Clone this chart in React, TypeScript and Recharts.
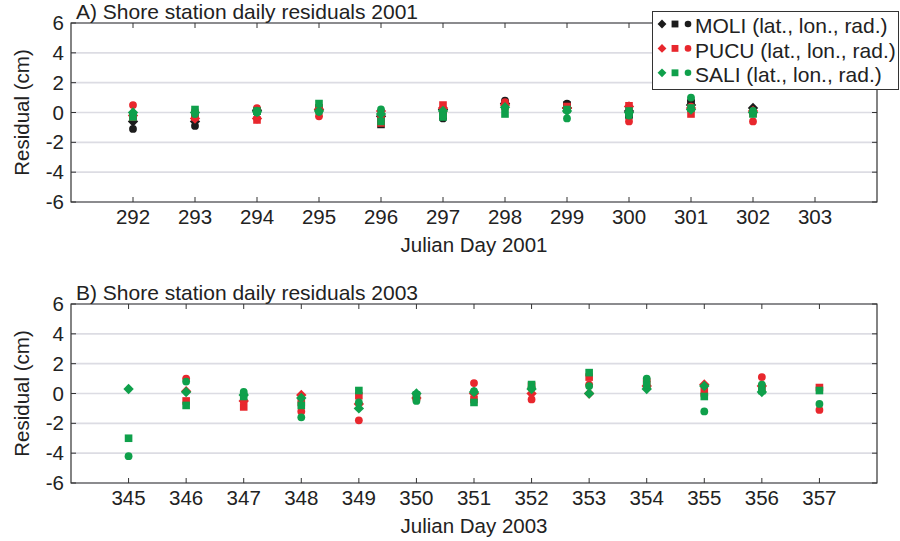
import React from 'react';
import { ScatterChart, Scatter, XAxis, YAxis, CartesianGrid, ReferenceArea, Legend } from 'recharts';

// ---- Panel A: 2001 ----
const days2001 = [292, 293, 294, 295, 296, 297, 298, 299, 300, 301, 302];
const dayTicks2001 = [292, 293, 294, 295, 296, 297, 298, 299, 300, 301, 302, 303];
const moliLat2001 = [-0.6, -0.6, 0.15, 0.2, -0.25, 0.2, 0.6, 0.3, 0.1, 0.5, 0.3];
const moliLon2001 = [-0.4, -0.2, 0.1, 0.3, -0.8, 0.0, 0.5, 0.5, -0.1, 0.6, 0.1];
const moliRad2001 = [-1.1, -0.9, 0.2, 0.1, -0.5, -0.4, 0.8, 0.6, -0.3, 0.8, 0.2];
const pucuLat2001 = [-0.2, -0.4, -0.4, 0.2, 0.1, 0.3, 0.5, 0.3, 0.4, 0.3, 0.1];
const pucuLon2001 = [-0.3, -0.3, -0.5, 0.3, -0.7, 0.5, 0.4, 0.4, 0.45, -0.1, -0.05];
const pucuRad2001 = [0.5, 0.1, 0.3, -0.25, -0.3, 0.1, 0.7, 0.2, -0.6, 0.4, -0.6];
const saliLat2001 = [0.0, 0.0, 0.05, 0.1, -0.1, 0.1, 0.35, 0.1, 0.0, 0.2, 0.0];
const saliLon2001 = [-0.3, 0.2, 0.1, 0.6, -0.6, -0.3, -0.1, 0.2, 0.1, 0.3, -0.1];
const saliRad2001 = [-0.1, -0.1, 0.0, 0.05, 0.2, -0.2, 0.3, -0.4, -0.2, 1.0, 0.1];

// ---- Panel B: 2003 ----
const days2003 = [345, 346, 347, 348, 349, 350, 351, 352, 353, 354, 355, 356, 357];
const dayTicks2003 = [345, 346, 347, 348, 349, 350, 351, 352, 353, 354, 355, 356, 357];
const pucuLat2003 = [null, 0.15, -0.5, -0.1, -0.7, -0.3, 0.0, 0.0, 0.0, 0.5, 0.6, 0.5, null];
const pucuLon2003 = [null, -0.5, -0.9, -0.6, -0.15, -0.2, -0.4, 0.5, 1.1, 0.6, 0.2, 0.4, 0.4];
const pucuRad2003 = [null, 1.0, -0.5, -1.2, -1.8, -0.4, 0.7, -0.4, 0.6, 0.9, -0.1, 1.1, -1.1];
const saliLat2003 = [0.3, 0.1, -0.1, -0.3, -1.0, 0.0, 0.1, 0.3, 0.0, 0.3, 0.5, 0.1, null];
const saliLon2003 = [-3.0, -0.8, -0.2, -0.8, 0.2, -0.1, -0.6, 0.6, 1.4, 0.6, -0.2, 0.2, 0.2];
const saliRad2003 = [-4.2, 0.8, 0.1, -1.6, -0.6, -0.5, 0.15, 0.4, 0.5, 1.0, -1.2, 0.6, -0.7];

const residualTicks = [-6, -4, -2, 0, 2, 4, 6];
const stationLabels = ['MOLI (lat., lon., rad.)', 'PUCU (lat., lon., rad.)', 'SALI (lat., lon., rad.)'];

const BLACK = '#1c1c1c';
const RED = '#e8272d';
const GREEN = '#0fa04b';
const TEXT = '#222';
const FONT = '"Liberation Sans", Arial, Helvetica, sans-serif';

type Pt = { day: number; res: number };
const pairs = (days: number[], values: (number | null)[]): Pt[] =>
  days.flatMap((d, i) => (values[i] == null ? [] : [{ day: d, res: values[i] as number }]));

type Kind = 'diamond' | 'square' | 'circle';

function Marker({ kind, cx, cy, color, s = 1 }: { kind: Kind; cx: number; cy: number; color: string; s?: number }) {
  if (kind === 'diamond') {
    const h = 5.2 * s;
    return <polygon points={`${cx},${cy - h} ${cx + h},${cy} ${cx},${cy + h} ${cx - h},${cy}`} fill={color} />;
  }
  if (kind === 'square') {
    const h = 3.8 * s;
    return <rect x={cx - h} y={cy - h} width={2 * h} height={2 * h} fill={color} />;
  }
  return <circle cx={cx} cy={cy} r={3.9 * s} fill={color} />;
}

const shapeOf = (kind: Kind, color: string) => (props: any) =>
  props.cx == null || props.cy == null ? <g /> : <Marker kind={kind} cx={props.cx} cy={props.cy} color={color} />;

function LegendBox() {
  const colors = [BLACK, RED, GREEN];
  return (
    <div style={{ width: 247, height: 79, boxSizing: 'border-box', border: '1px solid #333', background: '#fff' }}>
      <svg width={245} height={77} style={{ display: 'block' }}>
        {stationLabels.map((label, i) => {
          const cy = 12 + i * 24.4;
          return (
            <g key={label}>
              <Marker kind="diamond" cx={9} cy={cy} color={colors[i]} s={0.85} />
              <Marker kind="square" cx={22} cy={cy} color={colors[i]} s={0.9} />
              <Marker kind="circle" cx={35} cy={cy} color={colors[i]} s={0.85} />
              <text x={42} y={cy + 9.3} fontSize={21} fill={TEXT} fontFamily={FONT}>
                {label}
              </text>
            </g>
          );
        })}
      </svg>
    </div>
  );
}

function Panel({
  title,
  xLabel,
  domain,
  ticks,
  series,
  height,
  marginTop,
  marginBottom,
  showLegend,
}: {
  title: string;
  xLabel: string;
  domain: [number, number];
  ticks: number[];
  series: { data: Pt[]; kind: Kind; color: string; name: string }[];
  height: number;
  marginTop: number;
  marginBottom: number;
  showLegend: boolean;
}) {
  const xAxisH = 40;
  const plotTop = marginTop;
  const plotBottom = height - marginBottom - xAxisH;
  const plotLeft = 71;
  const plotRight = 877;

  const XTick = ({ x, y, payload }: any) => (
    <g>
      <line x1={x} x2={x} y1={y} y2={y - 5} stroke="#333" strokeWidth={1} />
      <line x1={x} x2={x} y1={plotTop} y2={plotTop + 5} stroke="#333" strokeWidth={1} />
      <text x={x} y={y + 22} textAnchor="middle" fontSize={20.5} fill={TEXT} fontFamily={FONT}>
        {payload.value}
      </text>
    </g>
  );

  const YTick = ({ x, y, payload }: any) => (
    <g>
      <line x1={x} x2={x + 5} y1={y} y2={y} stroke="#333" strokeWidth={1} />
      <line x1={plotRight - 5} x2={plotRight} y1={y} y2={y} stroke="#333" strokeWidth={1} />
      <text x={x - 7} y={y + 7} textAnchor="end" fontSize={20.5} fill={TEXT} fontFamily={FONT}>
        {payload.value}
      </text>
    </g>
  );

  const xLabelFn = () => (
    <text x={(plotLeft + plotRight) / 2} y={plotBottom + 50} textAnchor="middle" fontSize={20.5} fill={TEXT} fontFamily={FONT}>
      {xLabel}
    </text>
  );

  const yLabelFn = () => {
    const cy = (plotTop + plotBottom) / 2;
    return (
      <g>
        <text
          x={29}
          y={cy}
          transform={`rotate(-90 29 ${cy})`}
          textAnchor="middle"
          fontSize={20.5}
          fill={TEXT}
          fontFamily={FONT}
        >
          Residual (cm)
        </text>
        <text x={76} y={plotTop - 4.5} fontSize={21} fill={TEXT} fontFamily={FONT}>
          {title}
        </text>
      </g>
    );
  };

  return (
    <ScatterChart width={900} height={height} margin={{ top: marginTop, right: 23, bottom: marginBottom, left: 0 }}>
      <CartesianGrid vertical={false} stroke="#dcdce3" strokeWidth={1.6} />
      <XAxis
        type="number"
        dataKey="day"
        domain={domain}
        ticks={ticks}
        interval={0}
        height={xAxisH}
        axisLine={false}
        tickLine={false}
        tickSize={0}
        tickMargin={0}
        tick={<XTick />}
        label={xLabelFn}
        allowDataOverflow
      />
      <YAxis
        type="number"
        dataKey="res"
        domain={[-6, 6]}
        ticks={residualTicks}
        interval={0}
        width={71}
        axisLine={false}
        tickLine={false}
        tickSize={0}
        tickMargin={0}
        tick={<YTick />}
        label={yLabelFn}
        allowDataOverflow
      />
      <ReferenceArea
        x1={domain[0]}
        x2={domain[1]}
        y1={-6}
        y2={6}
        fill="none"
        fillOpacity={0}
        stroke="#333"
        strokeWidth={1.2}
        ifOverflow="visible"
      />
      {series.map((s) => (
        <Scatter key={s.name} name={s.name} data={s.data} shape={shapeOf(s.kind, s.color)} isAnimationActive={false} />
      ))}
      {showLegend && (
        <Legend
          layout="vertical"
          align="center"
          verticalAlign="middle"
          content={() => <LegendBox />}
          wrapperStyle={{ position: 'absolute', left: 652, top: 11, width: 247, height: 79, margin: 0 }}
        />
      )}
    </ScatterChart>
  );
}

export default function App() {
  const seriesA = [
    { name: 'MOLI lat', data: pairs(days2001, moliLat2001), kind: 'diamond' as Kind, color: BLACK },
    { name: 'MOLI lon', data: pairs(days2001, moliLon2001), kind: 'square' as Kind, color: BLACK },
    { name: 'MOLI rad', data: pairs(days2001, moliRad2001), kind: 'circle' as Kind, color: BLACK },
    { name: 'PUCU lat', data: pairs(days2001, pucuLat2001), kind: 'diamond' as Kind, color: RED },
    { name: 'PUCU lon', data: pairs(days2001, pucuLon2001), kind: 'square' as Kind, color: RED },
    { name: 'PUCU rad', data: pairs(days2001, pucuRad2001), kind: 'circle' as Kind, color: RED },
    { name: 'SALI lat', data: pairs(days2001, saliLat2001), kind: 'diamond' as Kind, color: GREEN },
    { name: 'SALI lon', data: pairs(days2001, saliLon2001), kind: 'square' as Kind, color: GREEN },
    { name: 'SALI rad', data: pairs(days2001, saliRad2001), kind: 'circle' as Kind, color: GREEN },
  ];
  const seriesB = [
    { name: 'PUCU lat', data: pairs(days2003, pucuLat2003), kind: 'diamond' as Kind, color: RED },
    { name: 'PUCU lon', data: pairs(days2003, pucuLon2003), kind: 'square' as Kind, color: RED },
    { name: 'PUCU rad', data: pairs(days2003, pucuRad2003), kind: 'circle' as Kind, color: RED },
    { name: 'SALI lat', data: pairs(days2003, saliLat2003), kind: 'diamond' as Kind, color: GREEN },
    { name: 'SALI lon', data: pairs(days2003, saliLon2003), kind: 'square' as Kind, color: GREEN },
    { name: 'SALI rad', data: pairs(days2003, saliRad2003), kind: 'circle' as Kind, color: GREEN },
  ];

  return (
    <div style={{ position: 'absolute', left: 0, top: 0, width: 900, height: 541, background: '#fff', overflow: 'hidden' }}>
      <div style={{ position: 'absolute', left: 0, top: 0 }}>
        <Panel
          title="A) Shore station daily residuals 2001"
          xLabel="Julian Day 2001"
          domain={[291, 304]}
          ticks={dayTicks2001}
          series={seriesA}
          height={270}
          marginTop={23}
          marginBottom={28}
          showLegend
        />
      </div>
      <div style={{ position: 'absolute', left: 0, top: 270 }}>
        <Panel
          title="B) Shore station daily residuals 2003"
          xLabel="Julian Day 2003"
          domain={[344, 358]}
          ticks={dayTicks2003}
          series={seriesB}
          height={271}
          marginTop={34}
          marginBottom={18}
          showLegend={false}
        />
      </div>
    </div>
  );
}
